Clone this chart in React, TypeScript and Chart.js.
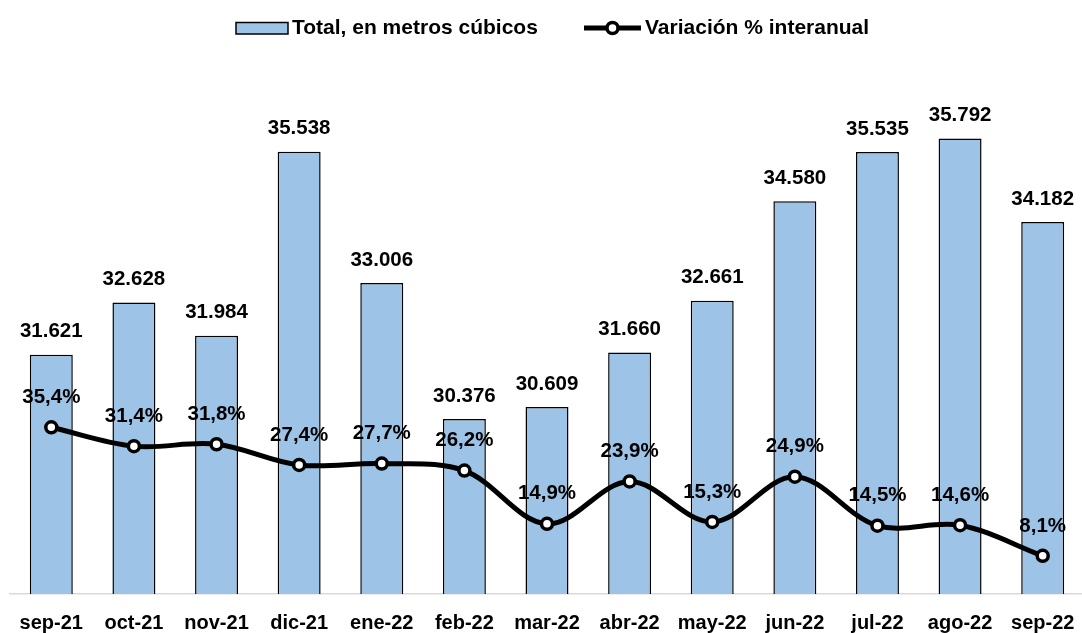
import React, { useEffect, useRef } from "react";
import { Chart, registerables } from "chart.js";

Chart.register(...registerables);

const categories = [
  "sep-21", "oct-21", "nov-21", "dic-21", "ene-22", "feb-22", "mar-22",
  "abr-22", "may-22", "jun-22", "jul-22", "ago-22", "sep-22",
];
const volumes = [
  31621, 32628, 31984, 35538, 33006, 30376, 30609, 31660, 32661, 34580, 35535, 35792, 34182,
];
const variation = [35.4, 31.4, 31.8, 27.4, 27.7, 26.2, 14.9, 23.9, 15.3, 24.9, 14.5, 14.6, 8.1];

const seriesNames = ["Total, en metros cúbicos", "Variación % interanual"];

const FONT = "'Liberation Sans', Arial, Helvetica, sans-serif";
const BAR_COLOR = "#9dc3e6";

const fmtInt = (v: number) => String(v).replace(/\B(?=(\d{3})+(?!\d))/g, ".");
const fmtPct = (v: number) => v.toFixed(1).replace(".", ",") + "%";

export default function App() {
  const ref = useRef<HTMLCanvasElement>(null);

  useEffect(() => {
    if (!ref.current) return;

    const valueLabels = {
      id: "valueLabels",
      afterDatasetsDraw(chart: any) {
        const ctx = chart.ctx;
        ctx.save();
        ctx.fillStyle = "#000";
        ctx.font = `bold 20.5px ${FONT}`;
        ctx.textAlign = "center";
        ctx.textBaseline = "middle";
        chart.getDatasetMeta(0).data.forEach((el: any, i: number) => {
          ctx.fillText(fmtInt(volumes[i]), el.x, el.y - 23);
        });
        chart.getDatasetMeta(1).data.forEach((el: any, i: number) => {
          ctx.fillText(fmtPct(variation[i]), el.x, el.y - 30);
        });
        ctx.restore();
      },
    };

    const customLegend = {
      id: "customLegend",
      afterDraw(chart: any) {
        const ctx = chart.ctx;
        ctx.save();
        ctx.font = `bold 21px ${FONT}`;
        ctx.textBaseline = "middle";
        ctx.textAlign = "left";
        // bar legend
        ctx.fillStyle = BAR_COLOR;
        ctx.fillRect(236, 22.5, 52, 11.5);
        ctx.lineWidth = 1.5;
        ctx.strokeStyle = "#000";
        ctx.strokeRect(236, 22.5, 52, 11.5);
        ctx.fillStyle = "#000";
        ctx.fillText(seriesNames[0], 292, 28);
        // line legend
        ctx.beginPath();
        ctx.lineWidth = 5;
        ctx.moveTo(584, 28);
        ctx.lineTo(641, 28);
        ctx.stroke();
        ctx.beginPath();
        ctx.arc(612.5, 28, 5.5, 0, Math.PI * 2);
        ctx.fillStyle = "#fff";
        ctx.fill();
        ctx.lineWidth = 3.5;
        ctx.stroke();
        ctx.fillStyle = "#000";
        ctx.fillText(seriesNames[1], 645, 28);
        ctx.restore();
      },
    };

    const chart = new Chart(ref.current, {
      type: "bar",
      data: {
        labels: categories,
        datasets: [
          {
            type: "bar",
            label: seriesNames[0],
            data: volumes,
            backgroundColor: BAR_COLOR,
            borderColor: "#000",
            borderWidth: 1.5,
            barPercentage: 0.52,
            categoryPercentage: 1,
            yAxisID: "y",
            order: 1,
          },
          {
            type: "line",
            label: seriesNames[1],
            data: variation,
            borderColor: "#000",
            borderWidth: 5,
            tension: 0.35,
            pointRadius: 5.5,
            pointBorderWidth: 3.5,
            pointBackgroundColor: "#fff",
            pointBorderColor: "#000",
            yAxisID: "y1",
            order: 0,
          } as any,
        ],
      },
      options: {
        responsive: false,
        animation: false,
        events: [],
        layout: { padding: { top: 76, left: 10, right: 4.6, bottom: 0 } },
        plugins: {
          legend: { display: false },
          tooltip: { enabled: false },
          title: { display: false },
        },
        scales: {
          x: {
            grid: { display: false, drawTicks: false },
            border: { display: true, color: "#d9d9d9", width: 1.5 },
            ticks: {
              color: "#000",
              font: { family: FONT, size: 20, weight: "bold" },
              padding: 17,
              maxRotation: 0,
              autoSkip: false,
            },
            afterFit: (axis: any) => {
              axis.height = 39;
            },
          },
          y: { display: false, min: 27000, max: 37000 },
          y1: { display: false, min: 0, max: 110, position: "right" },
        },
      },
      plugins: [valueLabels, customLegend],
    });

    return () => chart.destroy();
  }, []);

  return (
    <div style={{ position: "fixed", left: 0, top: 0, width: 1093, height: 633, background: "#fff" }}>
      <canvas ref={ref} width={1093} height={633} style={{ display: "block" }} />
    </div>
  );
}
